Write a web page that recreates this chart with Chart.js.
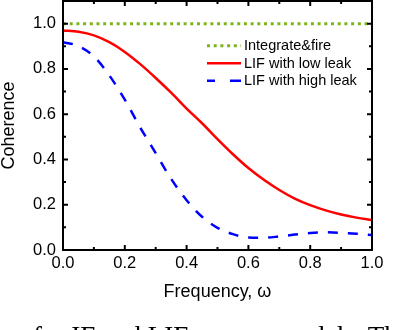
<!DOCTYPE html>
<html>
<head>
<meta charset="utf-8">
<script src="https://cdn.jsdelivr.net/npm/chart.js@4/dist/chart.umd.min.js"></script>
<style>
  html, body { margin: 0; padding: 0; background: #fff; }
  #wrap { position: relative; width: 400px; height: 330px; overflow: hidden; }
  #chart { position: absolute; left: 0; top: 0; }
  #caption {
    position: absolute; left: 33px; top: 323px;
    font: 27px 'Liberation Serif', 'Times New Roman', serif;
    line-height: 1; white-space: nowrap; color: #000;
  }
</style>
</head>
<body>
<div id="wrap">
  <canvas id="chart" width="400" height="330"></canvas>
  <div id="caption">for IF and LIF neuron models. The</div>
</div>
<script>
// values
const frequency = [0, 0.05, 0.1, 0.15, 0.2, 0.25, 0.3, 0.35, 0.4, 0.45, 0.5,
                   0.55, 0.6, 0.65, 0.7, 0.75, 0.8, 0.85, 0.9, 0.95, 1.0];
const integrateFire = [1, 1, 1, 1, 1, 1, 1, 1, 1, 1, 1,
                       1, 1, 1, 1, 1, 1, 1, 1, 1, 1];
const lowLeak = [0.970, 0.964, 0.948, 0.918, 0.875, 0.821, 0.760, 0.695, 0.625, 0.560, 0.490,
                 0.423, 0.362, 0.310, 0.265, 0.227, 0.198, 0.175, 0.157, 0.143, 0.132];
const highLeak = [0.918, 0.901, 0.855, 0.771, 0.664, 0.541, 0.428, 0.314, 0.220, 0.147, 0.098,
                  0.070, 0.055, 0.054, 0.060, 0.068, 0.075, 0.078, 0.076, 0.072, 0.066];
const seriesNames = ['Integrate&fire', 'LIF with low leak', 'LIF with high leak'];
const xTicks = [0, 0.2, 0.4, 0.6, 0.8, 1.0];
const yTicks = [0, 0.2, 0.4, 0.6, 0.8, 1.0];

const toPoints = vals => vals.map((v, i) => ({ x: frequency[i], y: v }));

// inward ticks on all four sides plus the box frame
const framePlugin = {
    id: 'frame',
    afterDraw(chart) {
        const { ctx, chartArea: a, scales: { x, y } } = chart;
        ctx.save();
        ctx.strokeStyle = '#000';
        ctx.lineWidth = 2;
        ctx.beginPath();
        for (let i = 0; i <= 10; i++) {
            const len = i % 2 === 0 ? 5 : 3;
            const px = x.getPixelForValue(i / 10);
            ctx.moveTo(px, a.bottom); ctx.lineTo(px, a.bottom - len);
            ctx.moveTo(px, a.top); ctx.lineTo(px, a.top + len);
        }
        for (let i = 0; i <= 11; i++) {
            const len = i % 2 === 0 ? 5 : 3;
            const py = y.getPixelForValue(i / 10);
            ctx.moveTo(a.left, py); ctx.lineTo(a.left + len, py);
            ctx.moveTo(a.right, py); ctx.lineTo(a.right - len, py);
        }
        ctx.stroke();
        ctx.strokeRect(a.left, a.top, a.right - a.left, a.bottom - a.top);
        ctx.restore();
    }
};

// legend drawn inside the plot area
const insideLegend = {
    id: 'insideLegend',
    afterDatasetsDraw(chart) {
        const ctx = chart.ctx;
        const rows = [45.7, 63.3, 80.7];
        ctx.save();
        ctx.font = '14.5px "Liberation Sans", Arial, sans-serif';
        ctx.textBaseline = 'middle';
        ctx.fillStyle = '#000';
        chart.data.datasets.forEach((ds, i) => {
            ctx.strokeStyle = ds.borderColor;
            ctx.lineWidth = ds.borderWidth;
            ctx.setLineDash(ds.legendDash || []);
            ctx.beginPath();
            ctx.moveTo(207, rows[i]);
            ctx.lineTo(241, rows[i]);
            ctx.stroke();
            ctx.setLineDash([]);
            ctx.fillText(ds.label, 244, rows[i] + 0.5);
        });
        ctx.restore();
    }
};

const tickFont = { family: '"Liberation Sans", Arial, sans-serif', size: 16.5 };
const titleFont = { family: '"Liberation Sans", Arial, sans-serif', size: 18, lineHeight: 1 };

new Chart(document.getElementById('chart').getContext('2d'), {
    type: 'line',
    data: {
        datasets: [{
            label: seriesNames[0],
            data: toPoints(integrateFire),
            borderColor: '#7cb518',
            borderWidth: 3,
            borderDash: [3, 3.7],
            legendDash: [3, 3.7],
            pointRadius: 0
        }, {
            label: seriesNames[1],
            data: toPoints(lowLeak),
            borderColor: '#ff0000',
            borderWidth: 2.5,
            pointRadius: 0,
            cubicInterpolationMode: 'monotone'
        }, {
            label: seriesNames[2],
            data: toPoints(highLeak),
            borderColor: '#0000ff',
            borderWidth: 2.5,
            borderDash: [10, 10],
            legendDash: [8, 15, 12],
            pointRadius: 0,
            cubicInterpolationMode: 'monotone'
        }]
    },
    options: {
        responsive: false,
        animation: false,
        layout: { padding: { left: 0, right: 28, top: 1, bottom: 0 } },
        plugins: { legend: { display: false }, tooltip: { enabled: false } },
        scales: {
            x: {
                type: 'linear',
                min: 0,
                max: 1,
                grid: { display: false, drawTicks: false },
                border: { display: false },
                afterBuildTicks: scale => { scale.ticks = xTicks.map(v => ({ value: v })); },
                afterFit: scale => {
                    scale.height = 80;
                    scale.paddingLeft = 0;
                    scale.paddingRight = 0;
                },
                ticks: {
                    color: '#000',
                    font: tickFont,
                    padding: 4,
                    maxRotation: 0,
                    callback: v => v.toFixed(1)
                },
                title: {
                    display: true,
                    text: 'Frequency, \u03c9',
                    color: '#000',
                    font: titleFont,
                    padding: { top: 0, bottom: 29 }
                }
            },
            y: {
                min: 0,
                max: 1.1,
                grid: { display: false, drawTicks: false },
                border: { display: false },
                afterBuildTicks: scale => { scale.ticks = yTicks.map(v => ({ value: v })); },
                afterFit: scale => {
                    scale.width = 63;
                    scale.paddingTop = 0;
                    scale.paddingBottom = 0;
                },
                ticks: {
                    color: '#000',
                    font: tickFont,
                    padding: 7,
                    callback: v => v.toFixed(1)
                },
                title: {
                    display: true,
                    text: 'Coherence',
                    color: '#000',
                    font: titleFont,
                    padding: { top: 0, bottom: 0 }
                }
            }
        }
    },
    plugins: [framePlugin, insideLegend]
});
</script>
</body>
</html>
